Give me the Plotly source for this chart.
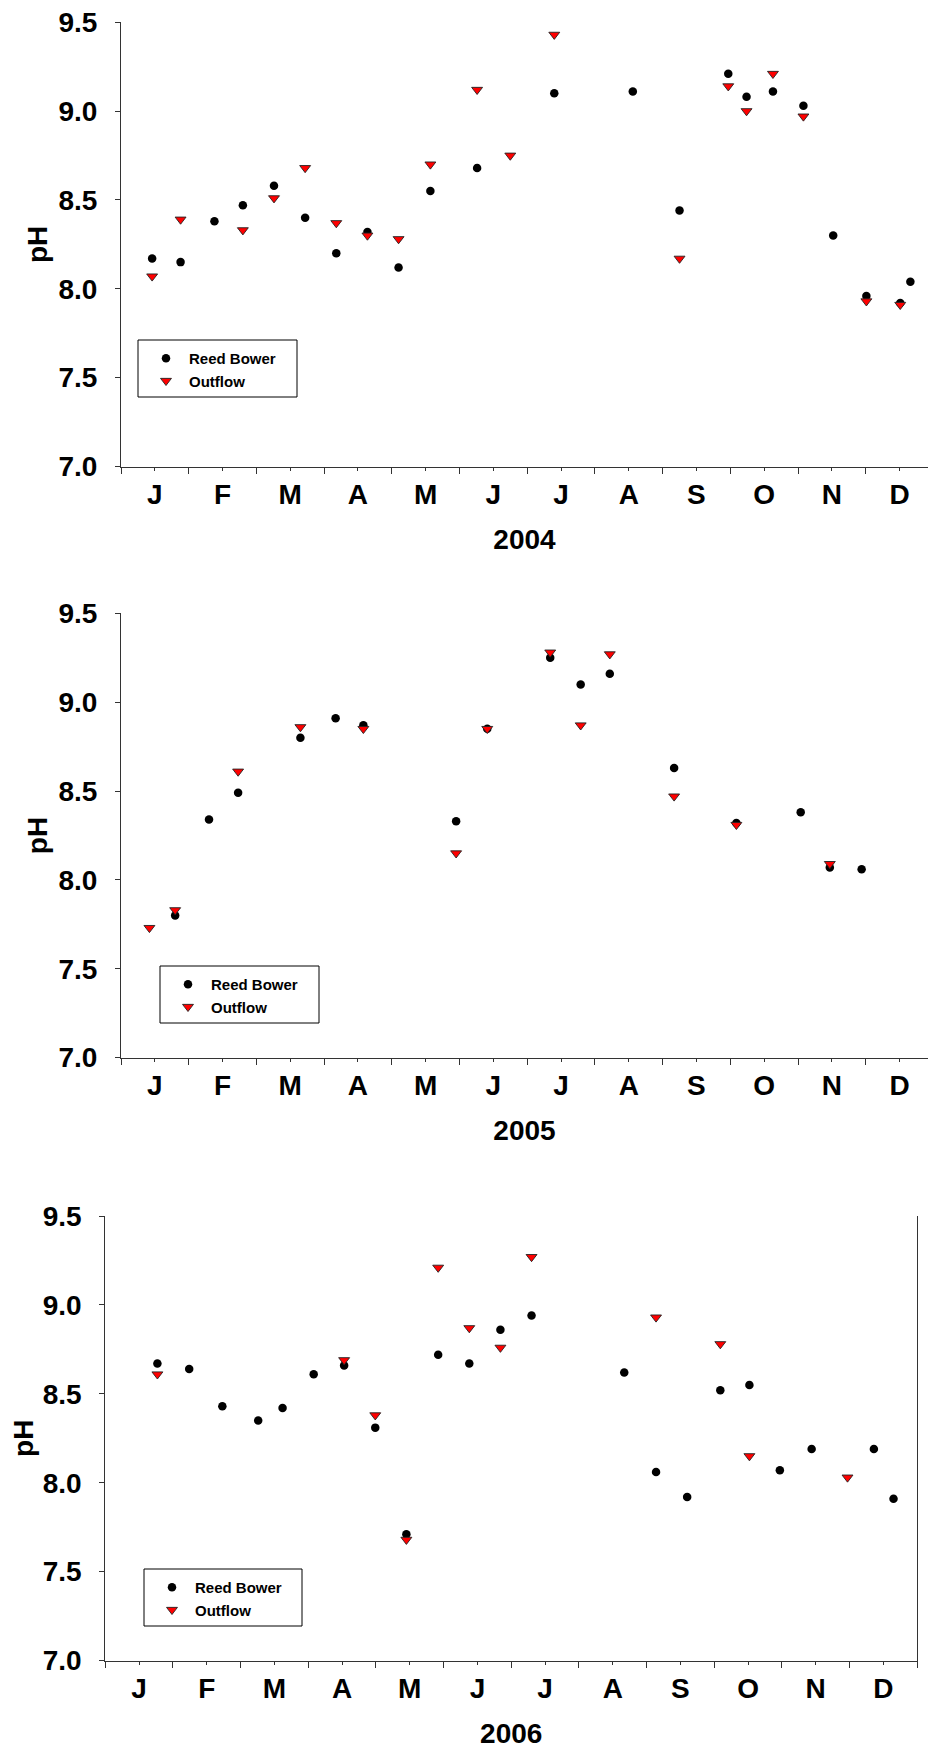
import plotly.graph_objects as go

# ---- data (x = time in months from 1 Jan, 0..12) ----
months = ["J", "F", "M", "A", "M", "J", "J", "A", "S", "O", "N", "D"]

rb_2004_x = [0.46, 0.88, 1.38, 1.80, 2.26, 2.72, 3.18, 3.64, 4.10, 4.57, 5.26, 6.40, 7.56, 8.25, 8.97, 9.24, 9.63, 10.08, 10.52, 11.01, 11.51, 11.66]
rb_2004_y = [8.17, 8.15, 8.38, 8.47, 8.58, 8.40, 8.20, 8.32, 8.12, 8.55, 8.68, 9.10, 9.11, 8.44, 9.21, 9.08, 9.11, 9.03, 8.30, 7.96, 7.92, 8.04]
of_2004_x = [0.46, 0.88, 1.80, 2.26, 2.72, 3.18, 3.64, 4.10, 4.57, 5.26, 5.75, 6.40, 8.25, 8.97, 9.24, 9.63, 10.08, 11.01, 11.51]
of_2004_y = [8.07, 8.39, 8.33, 8.51, 8.68, 8.37, 8.30, 8.28, 8.70, 9.12, 8.75, 9.43, 8.17, 9.14, 9.00, 9.21, 8.97, 7.93, 7.91]

rb_2005_x = [0.80, 1.30, 1.73, 2.65, 3.17, 3.58, 4.95, 5.41, 6.34, 6.79, 7.22, 8.17, 9.09, 10.04, 10.47, 10.94]
rb_2005_y = [7.80, 8.34, 8.49, 8.80, 8.91, 8.87, 8.33, 8.85, 9.25, 9.10, 9.16, 8.63, 8.32, 8.38, 8.07, 8.06]
of_2005_x = [0.42, 0.80, 1.73, 2.65, 3.58, 4.95, 5.41, 6.34, 6.79, 7.22, 8.17, 9.09, 10.47]
of_2005_y = [7.73, 7.83, 8.61, 8.86, 8.85, 8.15, 8.85, 9.28, 8.87, 9.27, 8.47, 8.31, 8.09]

rb_2006_x = [0.77, 1.24, 1.73, 2.26, 2.62, 3.08, 3.53, 3.99, 4.45, 4.92, 5.38, 5.84, 6.30, 7.67, 8.14, 8.60, 9.09, 9.52, 9.97, 10.44, 11.36, 11.65]
rb_2006_y = [8.67, 8.64, 8.43, 8.35, 8.42, 8.61, 8.66, 8.31, 7.71, 8.72, 8.67, 8.86, 8.94, 8.62, 8.06, 7.92, 8.52, 8.55, 8.07, 8.19, 8.19, 7.91]
of_2006_x = [0.77, 3.53, 3.99, 4.45, 4.92, 5.38, 5.84, 6.30, 8.14, 9.09, 9.52, 10.97]
of_2006_y = [8.61, 8.69, 8.38, 7.68, 9.21, 8.87, 8.76, 9.27, 8.93, 8.78, 8.15, 8.03]

years = ["2004", "2005", "2006"]
rb_x = [rb_2004_x, rb_2005_x, rb_2006_x]
rb_y = [rb_2004_y, rb_2005_y, rb_2006_y]
of_x = [of_2004_x, of_2005_x, of_2006_x]
of_y = [of_2004_y, of_2005_y, of_2006_y]

# ---- layout geometry (pixels) ----
W, H = 928, 1749
FONT = "Liberation Sans, Arial, sans-serif"
panels = [
    dict(xl=121, xr=928, yt=22.2, yb=466.5, xmax=(928 - 121) / 67.7, leg=(138, 340, 297, 397), mirror=False, ystand=2),
    dict(xl=121, xr=928, yt=613.3, yb=1057.6, xmax=(928 - 121) / 67.7, leg=(160, 966, 319, 1023), mirror=False, ystand=2),
    dict(xl=105.3, xr=917.2, yt=1216, yb=1660.6, xmax=12, leg=(144, 1569, 302, 1626), mirror=True, ystand=0),
]

fig = go.Figure()
layout = dict(
    template="none",
    width=W, height=H, margin=dict(l=0, r=0, t=0, b=0, autoexpand=False),
    paper_bgcolor="white", plot_bgcolor="white",
    font=dict(family=FONT, color="black"),
    showlegend=True,
)
shapes = []
for i, p in enumerate(panels):
    n = "" if i == 0 else str(i + 1)
    leg = "legend" + n
    fig.add_trace(go.Scatter(
        x=rb_x[i], y=rb_y[i], mode="markers", name="Reed Bower",
        marker=dict(symbol="circle", size=8.5, color="black"),
        xaxis="x" + n, yaxis="y" + n, legend=leg,
    ))
    fig.add_trace(go.Scatter(
        x=of_x[i], y=of_y[i], mode="markers", name="Outflow",
        marker=dict(symbol="triangle-down", size=9.5, color="#ff0000",
                    line=dict(color="#222222", width=0.9)),
        xaxis="x" + n, yaxis="y" + n, legend=leg,
    ))
    layout["xaxis" + n] = dict(
        domain=[p["xl"] / W, p["xr"] / W], anchor="y" + n, automargin=False,
        range=[0, p["xmax"]], showgrid=False, zeroline=False,
        showline=True, linecolor="#333333", linewidth=1,
        tickmode="array", tickvals=[m + 0.5 for m in range(12)], ticktext=months,
        ticks="outside", ticklen=3, tickcolor="#333333", tickwidth=1,
        minor=dict(tickmode="array", tickvals=list(range(13)), ticks="outside",
                   ticklen=6, tickcolor="#333333", tickwidth=1, showgrid=False),
        tickfont=dict(size=28, weight="bold", family=FONT, color="black"),
        ticklabelstandoff=0,
        title=dict(text=years[i], font=dict(size=28, weight="bold", family=FONT, color="black"), standoff=20),
        fixedrange=True,
    )
    layout["yaxis" + n] = dict(
        domain=[1 - p["yb"] / H, 1 - p["yt"] / H], anchor="x" + n, automargin=False,
        range=[7, 9.5], showgrid=False, zeroline=False,
        showline=True, linecolor="#333333", linewidth=1, mirror=p["mirror"],
        tickmode="array", tickvals=[7.0, 7.5, 8.0, 8.5, 9.0, 9.5], tickformat=".1f",
        ticks="outside", ticklen=5, tickcolor="#333333", tickwidth=1,
        tickfont=dict(size=28, weight="bold", family=FONT, color="black"),
        ticklabelstandoff=12,
        title=dict(text="pH", font=dict(size=28, weight="bold", family=FONT, color="black"), standoff=p["ystand"]),
        fixedrange=True,
    )
    x0, y0, x1, y1 = p["leg"]
    shapes.append(dict(type="rect", xref="paper", yref="paper",
                       x0=x0 / W, x1=x1 / W, y0=1 - y1 / H, y1=1 - y0 / H,
                       line=dict(color="black", width=1), fillcolor="rgba(0,0,0,0)"))
    layout[leg] = dict(
        x=(x0 + 5) / W, y=1 - (y0 + 2) / H, xanchor="left", yanchor="top",
        bgcolor="rgba(0,0,0,0)", borderwidth=0,
        font=dict(size=15, weight="bold", family=FONT, color="black"),
        itemwidth=36, tracegroupgap=0,
    )
layout["shapes"] = shapes
fig.update_layout(**layout)
fig.write_html("out.html")
